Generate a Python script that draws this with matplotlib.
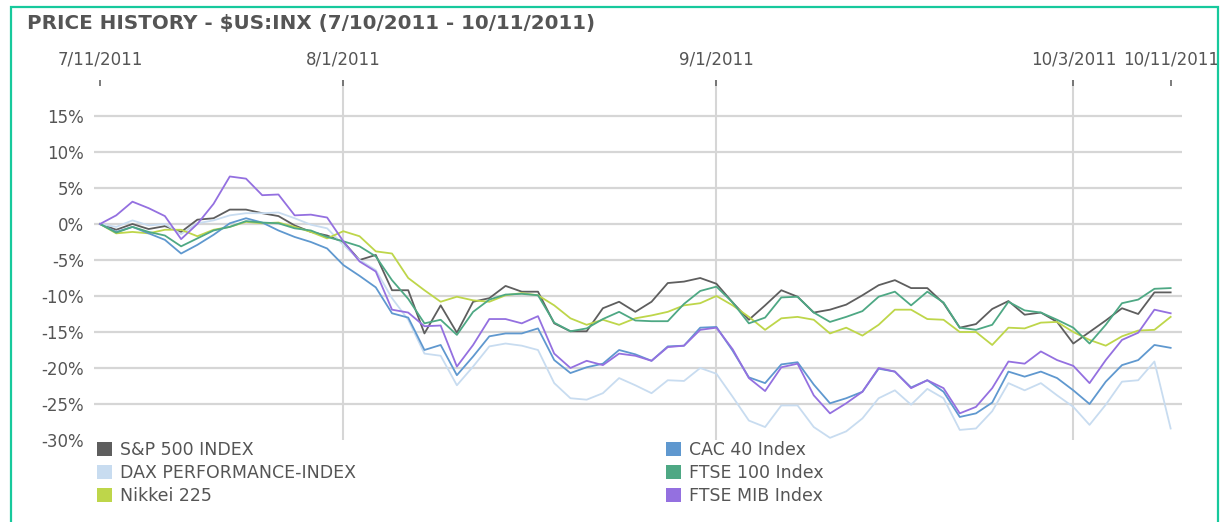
import numpy as np
import pandas as pd
import matplotlib
matplotlib.use('Agg')
import matplotlib.pyplot as plt
from matplotlib.patches import Patch, Rectangle
from matplotlib.ticker import FuncFormatter

# weekday dates, 7/11/2011 .. 10/11/2011
dates = pd.bdate_range('2011-07-11', '2011-10-11')

tick_dates = ['2011-07-11', '2011-08-01', '2011-09-01', '2011-10-03', '2011-10-11']
tick_labels = ['7/11/2011', '8/1/2011', '9/1/2011', '10/3/2011', '10/11/2011']
grid_dates = ['2011-08-01', '2011-09-01', '2011-10-03']

# % change since 7/11/2011
sp500 = [0, -0.8, 0.0, -0.7, -0.3, -1.1, 0.6, 0.8, 2.0, 2.0, 1.5, 1.1, -0.2, -1.1, -1.6, -2.5,
         -5.0, -4.3, -9.2, -9.2, -15.2, -11.3, -15.1, -10.8, -10.3, -8.6, -9.4, -9.4, -13.8, -14.9,
         -14.9, -11.7, -10.8, -12.2, -10.8, -8.2, -8.0, -7.5, -8.3, -10.9, -13.3, -11.3, -9.2, -10.1,
         -12.3, -11.9, -11.2, -9.9, -8.5, -7.8, -8.9, -8.9, -11.0, -14.4, -13.9, -11.8, -10.7, -12.6,
         -12.3, -13.6, -16.6, -15.0, -13.4, -11.7, -12.5, -9.5, -9.5]
dax = [0, -0.4, 0.5, -0.2, 0.0, -1.4, 0.1, 0.5, 1.2, 1.5, 1.5, 1.6, 0.8, -0.1, -0.6, -2.9,
       -5.0, -6.4, -10.3, -13.3, -18.0, -18.3, -22.4, -19.8, -17.0, -16.6, -16.9, -17.5, -22.1, -24.2,
       -24.4, -23.5, -21.4, -22.4, -23.5, -21.7, -21.8, -20.0, -20.8, -24.0, -27.3, -28.2, -25.2, -25.2,
       -28.2, -29.7, -28.8, -27.0, -24.2, -23.1, -25.1, -22.9, -24.2, -28.6, -28.4, -26.0, -22.1, -23.1,
       -22.1, -23.8, -25.4, -27.9, -25.1, -21.9, -21.7, -19.1, -28.4]
nikkei = [0, -1.3, -1.1, -1.3, -0.8, -0.8, -1.7, -0.8, -0.4, 0.3, 0.1, 0.2, -0.4, -1.1, -2.0, -1.0,
          -1.7, -3.8, -4.1, -7.5, -9.2, -10.8, -10.1, -10.6, -10.8, -9.9, -9.6, -9.9, -11.3, -13.1,
          -14.0, -13.3, -14.0, -13.1, -12.7, -12.2, -11.3, -11.0, -10.0, -11.3, -12.9, -14.7, -13.1, -12.9,
          -13.3, -15.2, -14.4, -15.5, -14.0, -11.9, -11.9, -13.2, -13.3, -15.0, -15.0, -16.8, -14.4, -14.5,
          -13.7, -13.6, -15.0, -16.1, -16.9, -15.6, -14.8, -14.7, -12.9]
cac40 = [0, -1.1, -0.4, -1.3, -2.2, -4.1, -2.9, -1.5, 0.1, 0.8, 0.2, -0.9, -1.8, -2.5, -3.4, -5.7,
         -7.2, -8.8, -12.4, -13.0, -17.5, -16.8, -21.0, -18.4, -15.6, -15.2, -15.2, -14.5, -18.9, -20.7,
         -19.9, -19.4, -17.5, -18.1, -19.0, -17.0, -16.9, -14.4, -14.3, -17.6, -21.3, -22.1, -19.5, -19.2,
         -22.3, -24.9, -24.2, -23.3, -20.1, -20.5, -22.7, -21.7, -23.3, -26.8, -26.3, -24.8, -20.5, -21.2,
         -20.5, -21.4, -23.1, -25.0, -21.9, -19.6, -18.9, -16.8, -17.2]
ftse100 = [0, -1.2, -0.4, -1.1, -1.6, -3.1, -2.0, -0.9, -0.4, 0.4, 0.2, 0.1, -0.6, -0.9, -1.8, -2.4,
           -3.1, -4.5, -7.8, -10.4, -13.8, -13.3, -15.4, -12.2, -10.5, -9.8, -9.7, -9.9, -13.7, -14.9,
           -14.5, -13.2, -12.2, -13.4, -13.5, -13.5, -11.1, -9.3, -8.7, -10.9, -13.8, -13.0, -10.2, -10.1,
           -12.3, -13.6, -12.9, -12.1, -10.1, -9.4, -11.3, -9.4, -10.9, -14.4, -14.7, -14.0, -10.8, -12.0,
           -12.3, -13.3, -14.4, -16.6, -14.0, -11.0, -10.5, -9.0, -8.9]
ftse_mib = [0, 1.2, 3.1, 2.2, 1.1, -2.1, 0.0, 2.8, 6.6, 6.3, 4.0, 4.1, 1.2, 1.3, 0.9, -2.4,
            -5.2, -6.6, -11.9, -12.3, -14.2, -14.1, -19.8, -16.8, -13.2, -13.2, -13.8, -12.8, -18.0, -20.0,
            -19.0, -19.6, -18.0, -18.3, -19.0, -17.1, -16.9, -14.7, -14.4, -17.4, -21.4, -23.2, -19.9, -19.4,
            -23.8, -26.3, -24.9, -23.3, -20.0, -20.5, -22.8, -21.7, -22.8, -26.3, -25.4, -22.8, -19.1, -19.4,
            -17.7, -18.9, -19.7, -22.1, -18.9, -16.1, -15.1, -11.9, -12.4]

series = [
    ('S&P 500 INDEX', sp500, '#5e5e5e'),
    ('DAX PERFORMANCE-INDEX', dax, '#c8dcf0'),
    ('Nikkei 225', nikkei, '#bed64a'),
    ('CAC 40 Index', cac40, '#5f98cf'),
    ('FTSE 100 Index', ftse100, '#4ea884'),
    ('FTSE MIB Index', ftse_mib, '#9470e0'),
]

TEXT = '#555555'
GRID = '#d6d6d6'

plt.rcParams['font.family'] = ['DejaVu Sans']

fig = plt.figure(figsize=(12.23, 5.22), dpi=100)
ax = fig.add_axes([94 / 1223, 1 - 440 / 522, 1088 / 1223, 360 / 522])

x = np.arange(len(dates))
pos = {d.strftime('%Y-%m-%d'): i for i, d in enumerate(dates)}

for d in grid_dates:
    ax.axvline(pos[d], color=GRID, lw=1.5, zorder=0)

for name, vals, color in series:
    ax.plot(x, vals, color=color, lw=1.3, label=name, zorder=2)

ax.set_xlim(-0.37, 66.7)
ax.set_ylim(-30, 20)

ax.set_yticks(np.arange(-30, 16, 5))
ax.yaxis.set_major_formatter(FuncFormatter(lambda v, p: f'{int(v)}%'))
ax.yaxis.grid(True, color=GRID, lw=1.6, zorder=0)
ax.get_ygridlines()[0].set_visible(False)
ax.tick_params(axis='y', length=0, pad=7, labelsize=12, labelcolor=TEXT)

ax.xaxis.tick_top()
ax.set_xticks([pos[d] for d in tick_dates])
ax.set_xticklabels(tick_labels)
ax.tick_params(axis='x', direction='in', length=4.5, width=1.2, color='#666666',
               pad=8, labelsize=12, labelcolor=TEXT)

for s in ax.spines.values():
    s.set_visible(False)

fig.text(27 / 1223, 1 - 24 / 522, 'PRICE HISTORY - $US:INX (7/10/2011 - 10/11/2011)',
         fontsize=14.3, fontweight='bold', color=TEXT, va='center', ha='left')

# legend: two columns placed under the plot
handles = [Patch(facecolor=c, edgecolor='none', label=n) for n, _, c in series]
leg_kw = dict(frameon=False, fontsize=12.5, labelcolor=TEXT, handlelength=0.85, handleheight=0.85,
              handletextpad=0.45, labelspacing=0.28, borderpad=0, borderaxespad=0)
fig.legend(handles=handles[:3], loc='upper left',
           bbox_to_anchor=(97 / 1223, 1 - 441 / 522), **leg_kw)
fig.legend(handles=handles[3:], loc='upper left',
           bbox_to_anchor=(666 / 1223, 1 - 441 / 522), **leg_kw)

# green frame around the widget
fig.patches.append(Rectangle((11 / 1223, -0.05), 1207 / 1223, 1.05 - 7 / 522,
                             transform=fig.transFigure, fill=False,
                             edgecolor='#17c99c', lw=1.6))

fig.savefig('out.png', dpi=100)
